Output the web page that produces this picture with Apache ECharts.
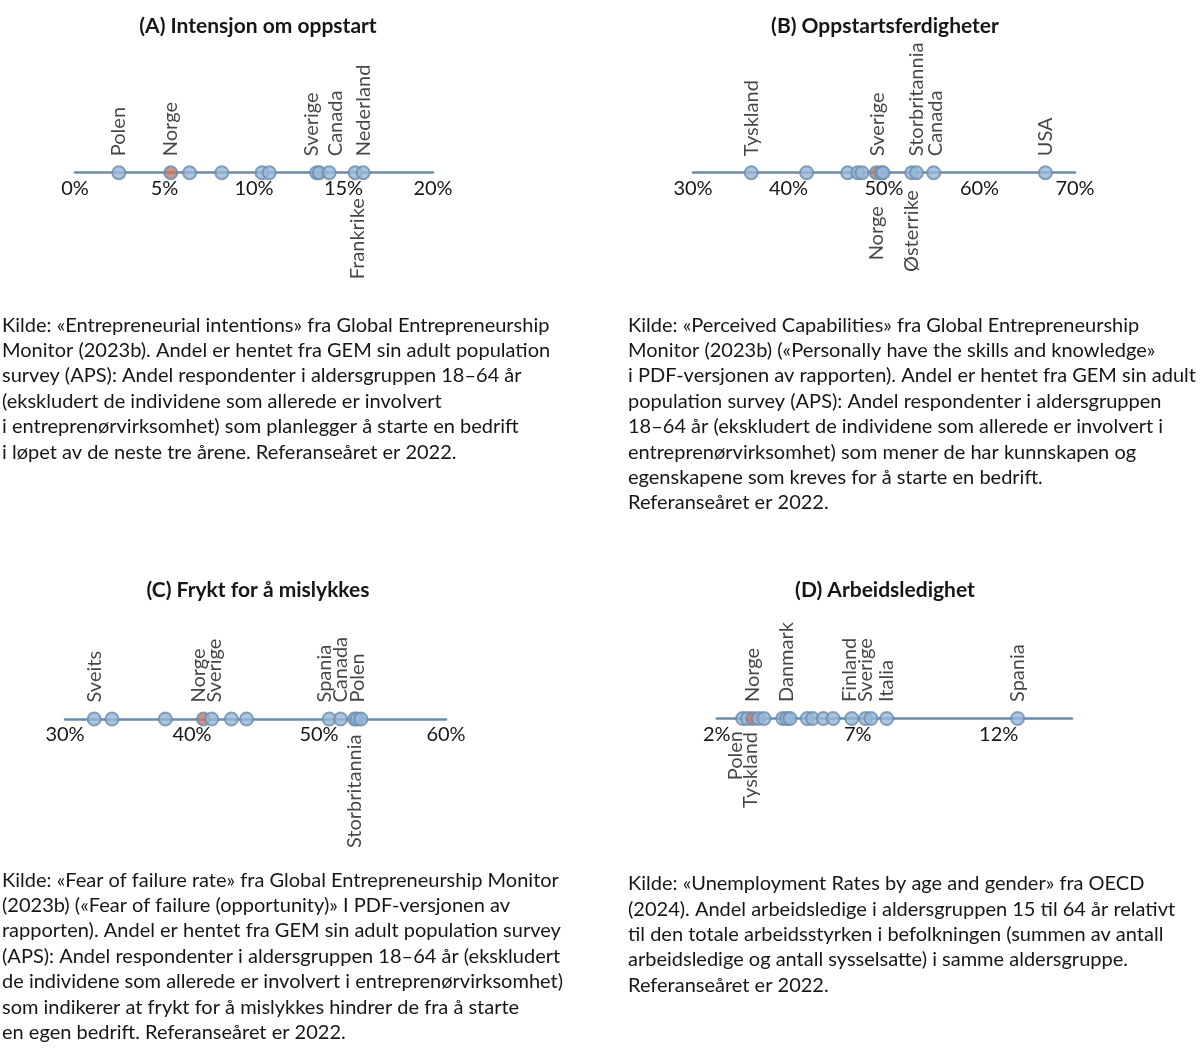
<!DOCTYPE html>
<html><head><meta charset="utf-8">
<script src="https://cdn.jsdelivr.net/npm/echarts@6/dist/echarts.min.js"></script>
<style>html,body{margin:0;padding:0;background:#fff}#c{width:1200px;height:1055px}</style>
</head><body><div id="c"></div>
<script>
// ---------- DATA ----------
const valuesA = [2.45, 5.35, 6.4, 8.2, 10.45, 10.85, 13.5, 13.65, 14.2, 15.65, 16.1];
const namesA  = ['Polen','Norge','','','','','Sverige','','Canada','Frankrike','Nederland'];
const valuesB = [36.1, 41.9, 46.2, 47.25, 47.7, 49.2, 49.7, 49.9, 52.9, 53.4, 55.2, 66.9];
const namesB  = ['Tyskland','','','','','Norge','Sverige','','Østerrike','Storbritannia','Canada','USA'];
const valuesC = [32.3, 33.7, 37.9, 40.9, 41.55, 43.1, 44.3, 50.8, 51.7, 52.8, 53.0, 53.3];
const namesC  = ['Sveits','','','Norge','Sverige','','','Spania','Canada','Storbritannia','','Polen'];
const valuesD = [2.92, 3.09, 3.28, 3.48, 3.68, 4.34, 4.48, 4.6, 5.21, 5.4, 5.78, 6.13, 6.79, 7.28, 7.47, 8.03, 12.67];
const namesD  = ['Polen','Tyskland','Norge','','','','Danmark','','','','','','Finland','Sverige','','Italia','Spania'];
const highlight = 'Norge';
const ticksA = {min: 0, max: 20, interval: 5};
const ticksB = {min: 30, max: 70, interval: 10};
const ticksC = {min: 30, max: 60, interval: 10};
const ticksD = {min: 2, max: 14.6, interval: 5};
const titles = ['(A) Intensjon om oppstart', '(B) Oppstartsferdigheter', '(C) Frykt for å mislykkes', '(D) Arbeidsledighet'];
const sourceA = 'Kilde: «Entrepreneurial intentions» fra Global Entrepreneurship\nMonitor (2023b). Andel er hentet fra GEM sin adult population\nsurvey (APS): Andel respondenter i aldersgruppen 18–64 år\n(ekskludert de individene som allerede er involvert\ni entreprenørvirksomhet) som planlegger å starte en bedrift\ni løpet av de neste tre årene. Referanseåret er 2022.';
const sourceB = 'Kilde: «Perceived Capabilities» fra Global Entrepreneurship\nMonitor (2023b) («Personally have the skills and knowledge»\ni PDF-versjonen av rapporten). Andel er hentet fra GEM sin adult\npopulation survey (APS): Andel respondenter i aldersgruppen\n18–64 år (ekskludert de individene som allerede er involvert i\nentreprenørvirksomhet) som mener de har kunnskapen og\negenskapene som kreves for å starte en bedrift.\nReferanseåret er 2022.';
const sourceC = 'Kilde: «Fear of failure rate» fra Global Entrepreneurship Monitor\n(2023b) («Fear of failure (opportunity)» I PDF-versjonen av\nrapporten). Andel er hentet fra GEM sin adult population survey\n(APS): Andel respondenter i aldersgruppen 18–64 år (ekskludert\nde individene som allerede er involvert i entreprenørvirksomhet)\nsom indikerer at frykt for å mislykkes hindrer de fra å starte\nen egen bedrift. Referanseåret er 2022.';
const sourceD = 'Kilde: «Unemployment Rates by age and gender» fra OECD\n(2024). Andel arbeidsledige i aldersgruppen 15 til 64 år relativt\ntil den totale arbeidsstyrken i befolkningen (summen av antall\narbeidsledige og antall sysselsatte) i samme aldersgruppe.\nReferanseåret er 2022.';
const belowA = ['Frankrike'];
const belowB = ['Norge','Østerrike'];
const belowC = ['Storbritannia'];
const belowD = ['Polen','Tyskland'];

// ---------- STYLE ----------
const FONT = 'Lato';
const TXT = '#161616';
const LINE = '#6d8ba6';
const FILL = '#96b6d8';
const EDGE = '#6a8cae';
const RED = '#c27a6c';
const FS = 20;
// label placement tweaks: [horizontal px shift, distance from symbol]
const labelTweak = [
  {Sverige: [-5, 9], Canada: [6, 9], Frankrike: [2, 18]},
  {Sverige: [-3.5, 9], Canada: [1.5, 9], Norge: [0, 26], 'Østerrike': [0, 10]},
  {Norge: [-4.5, 9], Sverige: [3, 9], Spania: [-5, 9], Polen: [-3, 9], Storbritannia: [0, 8]},
  {Finland: [-2, 9], Polen: [-7, 5], Tyskland: [3, 6]}
];
const panels = [
  {vals: valuesA, names: namesA, below: belowA, ticks: ticksA, left: 75, width: 358, axisY: 172.7},
  {vals: valuesB, names: namesB, below: belowB, ticks: ticksB, left: 693, width: 382, axisY: 172.7},
  {vals: valuesC, names: namesC, below: belowC, ticks: ticksC, left: 65, width: 381, axisY: 719},
  {vals: valuesD, names: namesD, below: belowD, ticks: ticksD, left: 716.7, width: 355.3, axisY: 718.5}
];

const grid = [], xAxis = [], yAxis = [], series = [];
panels.forEach((p, i) => {
  grid.push({left: p.left, width: p.width, top: p.axisY - 40, height: 40});
  xAxis.push({
    type: 'value', gridIndex: i, min: p.ticks.min, max: p.ticks.max, interval: p.ticks.interval,
    position: 'bottom',
    axisLine: {onZero: false, lineStyle: {color: LINE, width: 2.5}},
    axisTick: {show: false}, splitLine: {show: false},
    axisLabel: {formatter: '{value}%', fontFamily: FONT, fontSize: FS, color: TXT, margin: 6, showMaxLabel: i !== 3}
  });
  yAxis.push({type: 'value', gridIndex: i, min: 0, max: 1, show: false});
  series.push({
    type: 'scatter', xAxisIndex: i, yAxisIndex: i, symbol: 'circle', symbolSize: 13,
    silent: true, z: 3, clip: false,
    data: p.vals.map((v, k) => {
      const name = p.names[k];
      const isBelow = p.below.includes(name);
      const tw = labelTweak[i][name] || [0, isBelow ? 18 : 9];
      const item = {
        value: [v, 0], name: name,
        itemStyle: {color: name === highlight ? RED : FILL, borderColor: EDGE, borderWidth: 2}
      };
      if (name) {
        item.label = {
          show: true, formatter: name, rotate: 90,
          position: isBelow ? 'bottom' : 'top',
          distance: tw[1],
          align: isBelow ? 'right' : 'left', verticalAlign: 'middle',
          offset: [0, tw[0]],
          fontFamily: FONT, fontSize: FS, color: TXT
        };
      }
      return item;
    })
  });
});

const graphic = [];
const titlePos = [[258, 26], [885, 26], [258, 590], [885, 590]];
titles.forEach((t, i) => graphic.push({
  type: 'text', x: titlePos[i][0], y: titlePos[i][1],
  style: {text: t, font: 'bold 21px ' + FONT, fill: TXT, textAlign: 'center', textVerticalAlign: 'middle'}
}));
const srcPos = [[2, 312.5, sourceA], [628, 312.5, sourceB], [2, 867.5, sourceC], [628, 871, sourceD]];
srcPos.forEach(s => graphic.push({
  type: 'text', x: s[0], y: s[1],
  style: {text: s[2], font: FS + 'px ' + FONT, fill: TXT, lineHeight: 25.4, textAlign: 'left', textVerticalAlign: 'top'}
}));

const chart = echarts.init(document.getElementById('c'), null, {renderer: 'canvas'});
chart.setOption({animation: false, backgroundColor: '#fff', grid, xAxis, yAxis, series, graphic});
</script></body></html>
